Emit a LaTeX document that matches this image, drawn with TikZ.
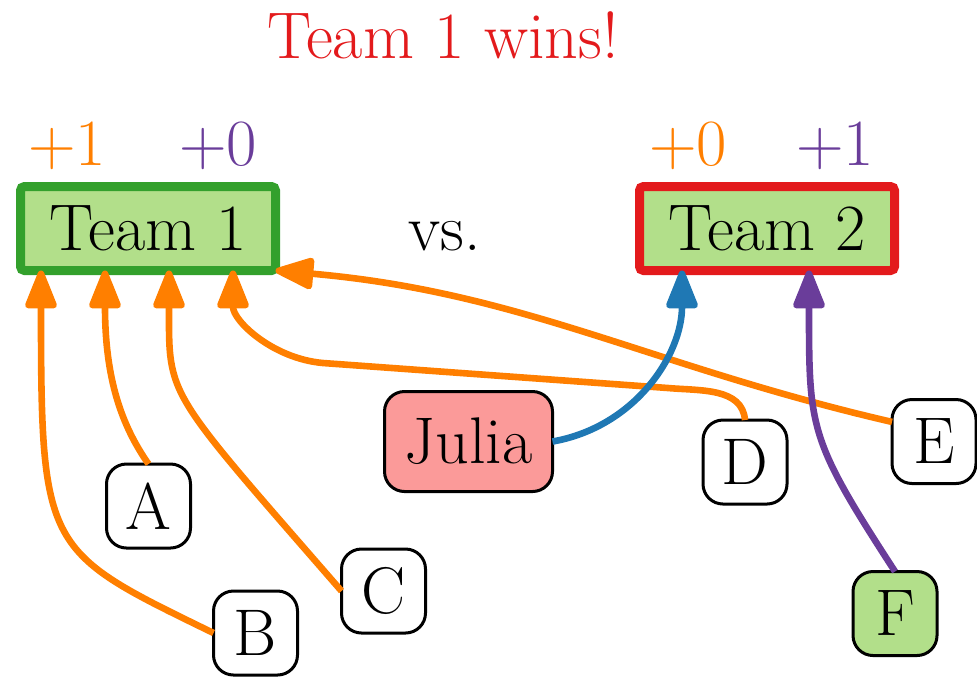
\documentclass[tikz,border=0pt]{standalone}
\usetikzlibrary{arrows.meta,calc}
\definecolor{cborange}{HTML}{FF7F00}
\definecolor{cbpurple}{HTML}{6A3D9A}
\definecolor{cbblue}{HTML}{1F78B4}
\definecolor{cbgreen}{HTML}{33A02C}
\definecolor{cblgreen}{HTML}{B2DF8A}
\definecolor{cbred}{HTML}{E31A1C}
\definecolor{cbpink}{HTML}{FB9A99}
\tikzset{
  team/.style={draw, line width=4.5pt, fill=cblgreen, rounded corners=2pt,
    minimum width=127.5pt, minimum height=42pt, inner sep=0pt, outer sep=0pt},
  voter/.style={draw, line width=1.5pt, rounded corners=10pt,
    minimum size=42pt, inner sep=0pt, outer sep=0pt},
  points/.style={anchor=base},
  vote/.style={line width=3.3pt, -{Triangle[length=22pt,width=16.5pt,round]}},
}
\begin{document}
\begin{tikzpicture}[x=0.5pt, y=-0.5pt, font=\fontsize{33}{40}\selectfont]
\useasboundingbox (0,0) rectangle (977,677);
% title and the two teams
\node[anchor=base, text=cbred] (title) at (443,58) {Team 1 wins!};
\node[team, draw=cbgreen] (t1) at (148,228.5) {Team 1};
\node[team, draw=cbred] (t2) at (767,228.5) {Team 2};
\node[anchor=base] (vs) at (445,250) {vs.};
% points per team
\node[points, text=cborange] (t1o) at (67,165) {+1};
\node[points, text=cbpurple] (t1p) at (218,165) {+0};
\node[points, text=cborange] (t2o) at (688,165) {+0};
\node[points, text=cbpurple] (t2p) at (835,165) {+1};
% voters
\node[voter] (A) at (148.5,506) {A};
\node[voter] (B) at (255.5,633) {B};
\node[voter] (C) at (383.5,591) {C};
\node[voter] (D) at (745,462) {D};
\node[voter] (E) at (934,441.5) {E};
\node[voter, fill=cblgreen] (F) at (895,613.5) {F};
\node[voter, fill=cbpink, minimum width=84pt, minimum height=50pt] (julia) at (468.5,441.5) {Julia};
% arrow ends on the team boxes
\coordinate (s1) at ($(t1.south)+(-107,0)$);
\coordinate (s2) at ($(t1.south)+(-43,0)$);
\coordinate (s3) at ($(t1.south)+(21,0)$);
\coordinate (s4) at ($(t1.south)+(85,0)$);
\coordinate (s5) at ($(t2.south)+(-85,0)$);
\coordinate (s6) at ($(t2.south)+(42,0)$);
% votes
\draw[vote, cborange] (B.west) to[out=154, in=-90, out looseness=1.2, in looseness=1.8] (s1);
\draw[vote, cborange] (A.north) to[out=125, in=-90, out looseness=0.6, in looseness=1.4] (s2);
\draw[vote, cborange] (C.west) to[out=131, in=-90, out looseness=1.9, in looseness=0.9] (s3);
\draw[vote, cborange] (D.north) to[out=95, in=-5] ++(-77,-32) -- ++(-345,-25) to[out=175, in=-90] (s4);
\draw[vote, cborange] (E.155) to[out=167, in=-5] (t1.south east);
\draw[vote, cbblue] (julia.east) to[out=10, in=-90] (s5);
\draw[vote, cbpurple] (F.north) to[out=123, in=-90, looseness=1.3] (s6);
\end{tikzpicture}
\end{document}
